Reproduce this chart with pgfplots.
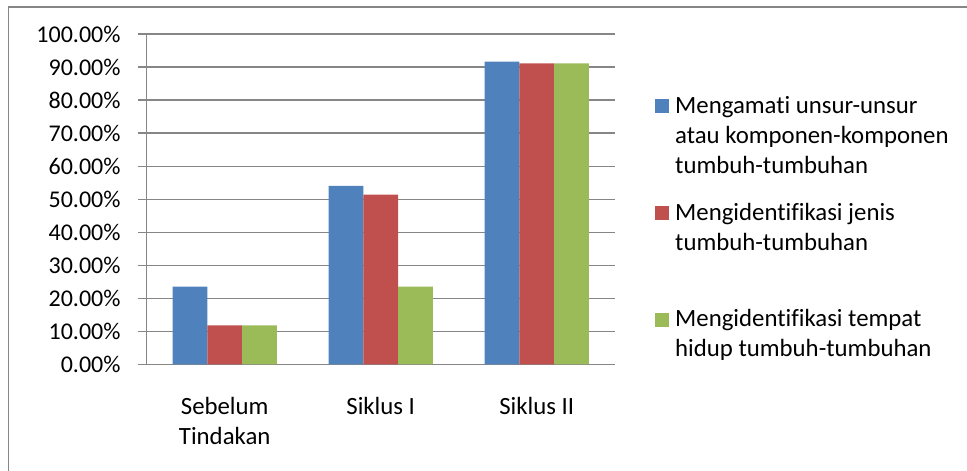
\documentclass[border=0pt]{standalone}
\usepackage{pgfplots}
\pgfplotsset{compat=1.18}
\usepackage{fontspec}
\setmainfont{Carlito}[RawFeature={-liga;-clig;-dlig}]
\definecolor{xblue}{HTML}{4F81BD}
\definecolor{xred}{HTML}{C0504D}
\definecolor{xgreen}{HTML}{9BBB59}
\definecolor{xgray}{HTML}{868686}
\begin{document}
\fontsize{24.8pt}{30pt}\selectfont
\begin{tikzpicture}
\path[use as bounding box] (0,0) rectangle (967pt,471pt);
\draw[xgray, line width=1.7pt] (8.5pt,-2pt) -- (8.5pt,464pt) -- (970pt,464pt);
\begin{axis}[
  at={(146.7pt,106.7pt)}, anchor=south west,
  scale only axis, width=468pt, height=330.3pt,
  ybar=0pt, bar width=34.7pt,
  xmin=-0.5, xmax=2.5, ymin=0, ymax=100,
  axis lines=left, axis line style={-, xgray, line width=1.2pt},
  xtick={0,1,2},
  xticklabels={{Sebelum\\Tindakan},{Siklus I},{Siklus II}},
  x tick style={draw=none},
  extra x ticks={-0.5,0.5,1.5,2.5},
  extra x tick labels={},
  extra x tick style={tick align=outside, major tick length=8.5pt, xmajorgrids=false, tick style={xgray, line width=1.2pt, draw=xgray}},
  xticklabel style={align=center, anchor=north, inner sep=0pt, yshift=-24pt},
  ytick={0,10,...,100},
  yticklabels={0.00\%,10.00\%,20.00\%,30.00\%,40.00\%,50.00\%,60.00\%,70.00\%,80.00\%,90.00\%,100.00\%},
  y tick style={xgray, line width=1.2pt},
  tick align=outside, major tick length=8.7pt,
  yticklabel style={anchor=east, inner sep=0pt, xshift=-17.3pt, font=\fontsize{24pt}{30pt}\selectfont},
  ymajorgrids, grid style={xgray, line width=1.2pt},
  legend image code/.code={\fill[#1] (0pt,0.3pt) rectangle (14pt,14.3pt);},
  legend cell align=left,
  legend style={at={(1.0861,0.8235)}, anchor=north west, draw=none, fill=none,
    inner sep=0pt, row sep=82pt, column sep=6pt,
    nodes={anchor=base west, inner sep=0pt}},
]
\addplot[fill=xblue, draw=none] coordinates {(0,23.53) (1,54.0) (2,91.67)};
\addplot[fill=xred, draw=none] coordinates {(0,11.76) (1,51.35) (2,91.1)};
\addplot[fill=xgreen, draw=none] coordinates {(0,11.76) (1,23.53) (2,91.1)};
\legend{
  {\parbox[t]{290pt}{\strut Mengamati unsur-unsur\\atau komponen-komponen\\tumbuh-tumbuhan\strut}},
  {\parbox[t]{290pt}{\strut Mengidentifikasi jenis\\tumbuh-tumbuhan\\\strut}},
  {\parbox[t]{290pt}{\strut Mengidentifikasi tempat\\hidup tumbuh-tumbuhan\\\strut}}
}
\end{axis}
\end{tikzpicture}
\end{document}
